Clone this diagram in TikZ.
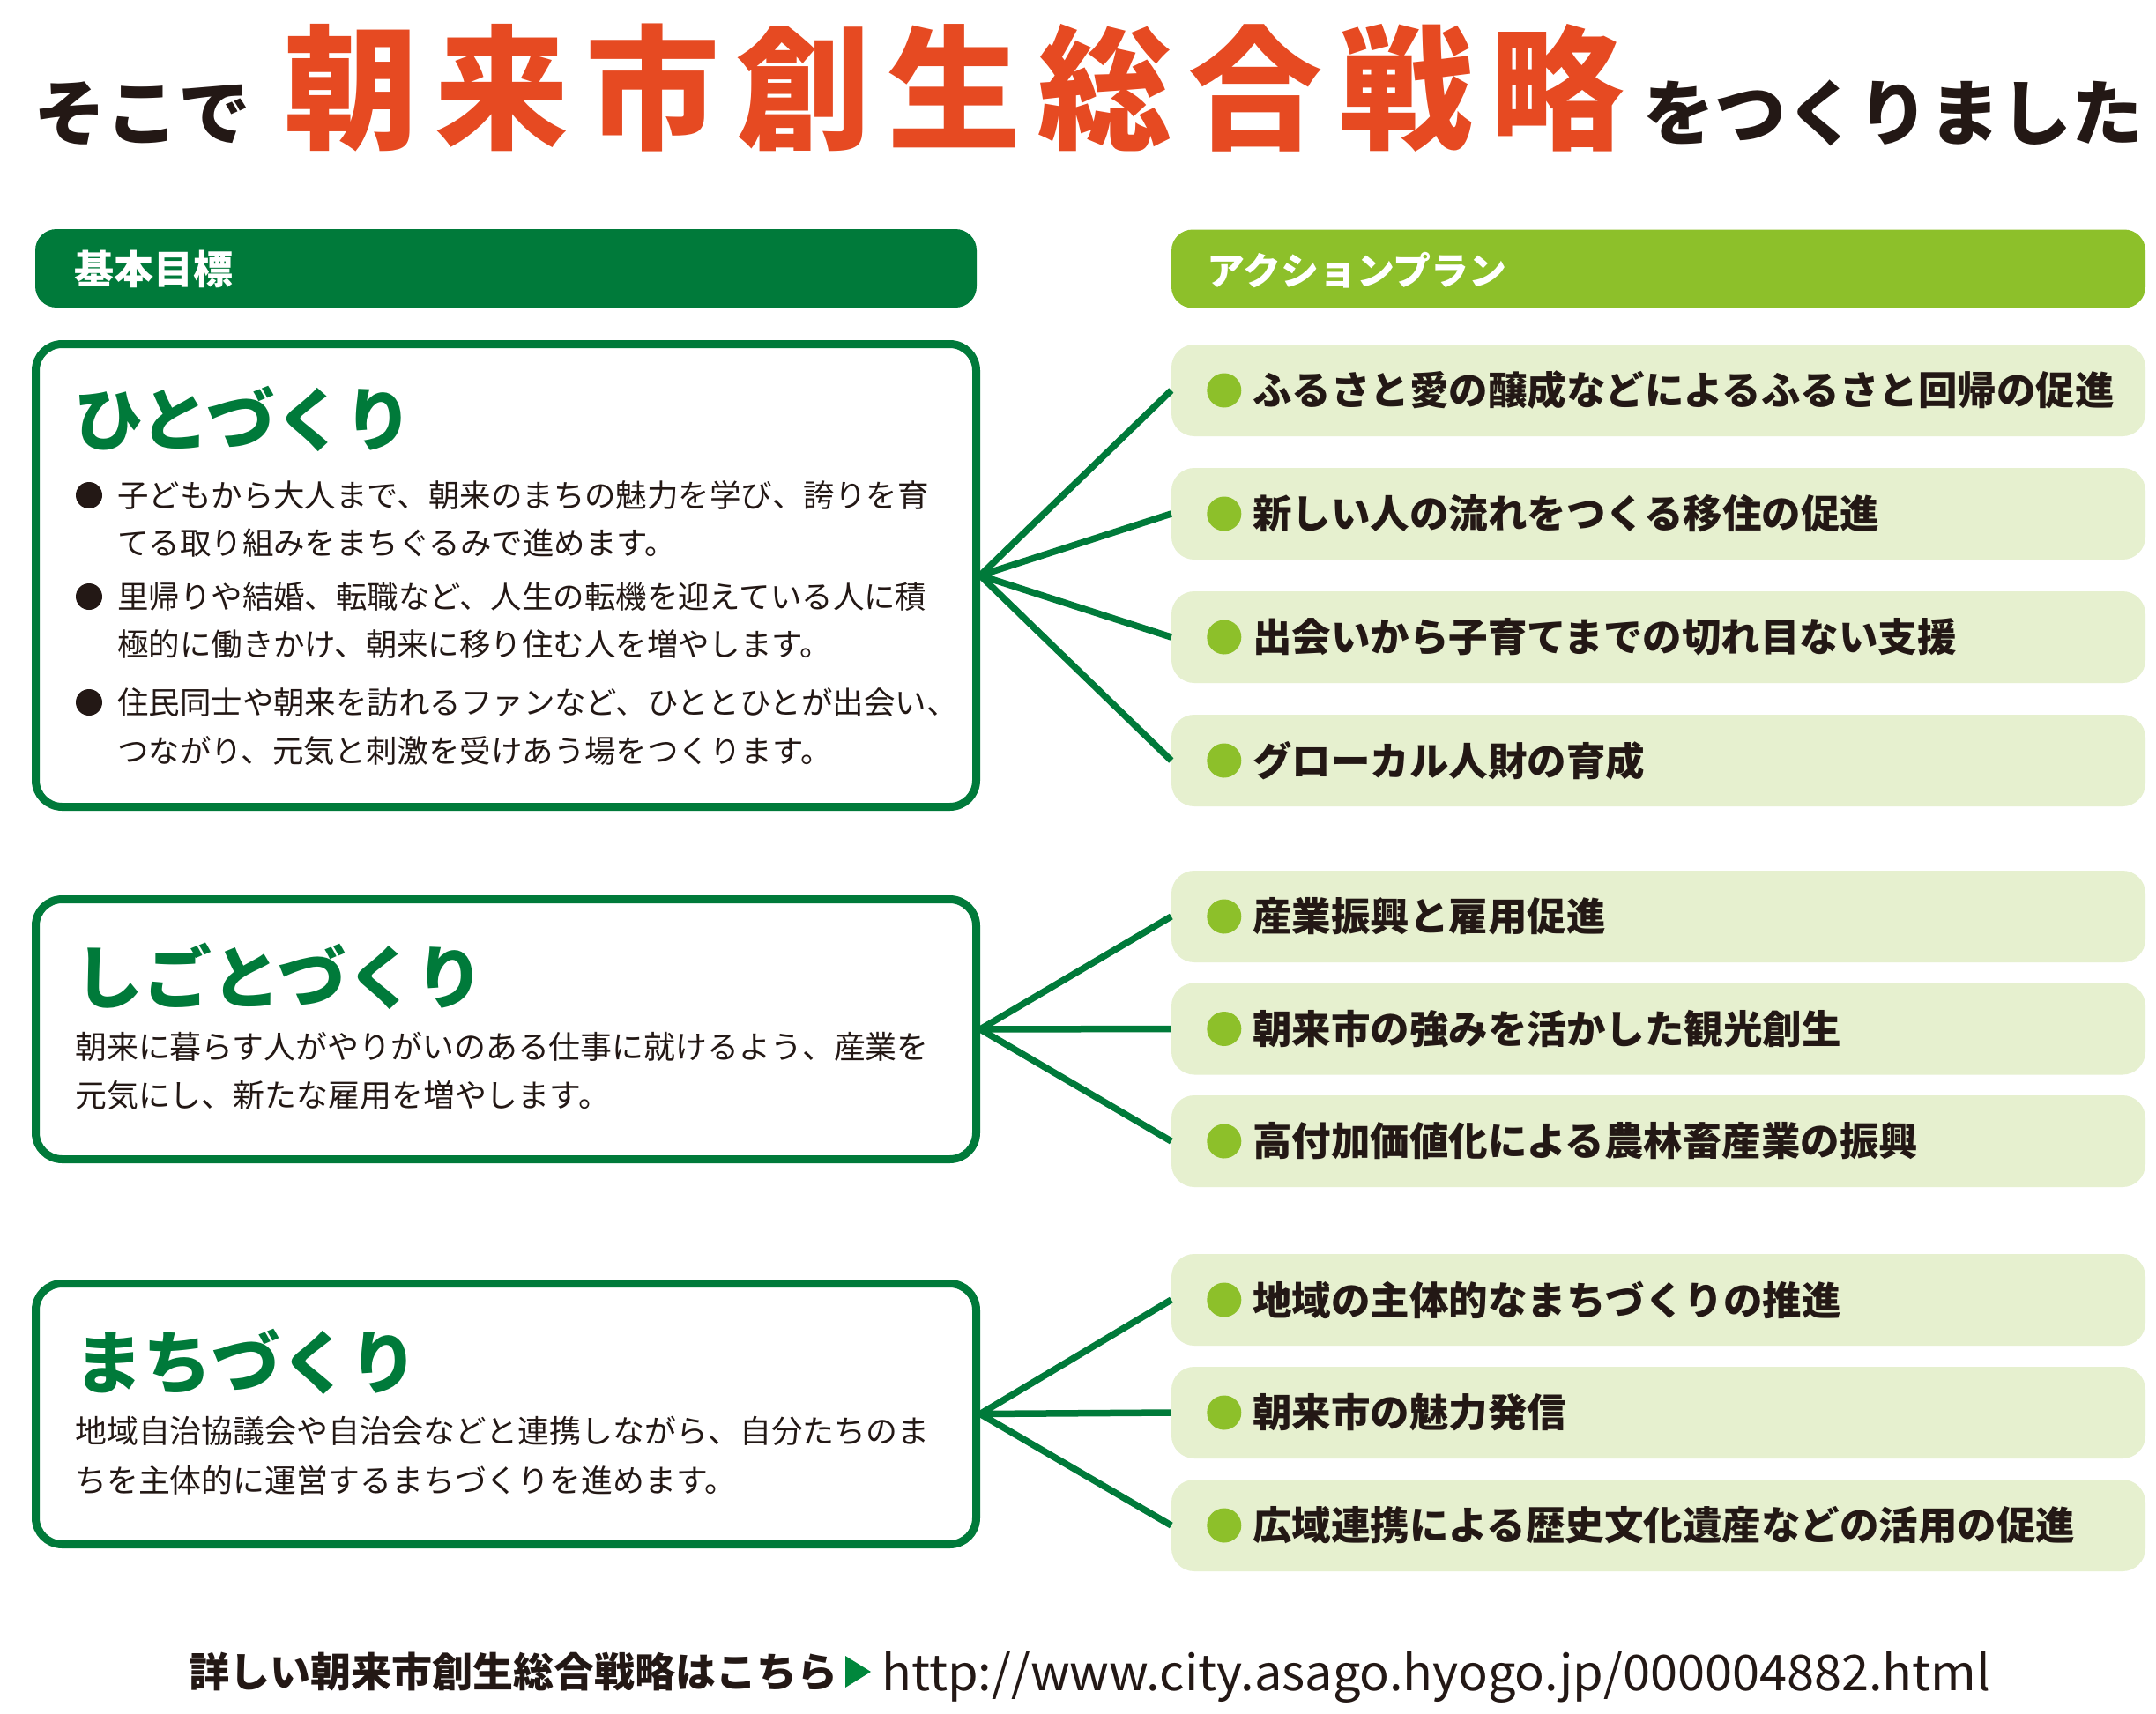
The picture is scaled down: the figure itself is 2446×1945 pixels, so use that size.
\documentclass[tikz,border=0pt]{standalone}
\usepackage{fontspec}
\newfontfamily\jp{Noto Sans CJK JP}
\definecolor{dgreen}{RGB}{0,122,58}
\definecolor{lgreen}{RGB}{141,192,42}
\definecolor{actfill}{RGB}{230,240,207}
\definecolor{tred}{RGB}{230,74,34}
\definecolor{tblack}{RGB}{35,24,21}
\definecolor{fgreen}{RGB}{0,135,60}
\newcommand{\tc}[1]{\makebox[171pt][l]{#1}}
\tikzset{
  goalbox/.style={draw=dgreen, line width=9pt, rounded corners=30pt, fill=white, minimum width=1067pt, inner sep=0pt},
  actbox/.style={fill=actfill, rounded corners=26pt, minimum width=1105pt, minimum height=104pt, inner sep=0pt},
  bar/.style={rounded corners=24pt, minimum height=89pt, inner sep=0pt},
  bartext/.style={anchor=west, inner sep=0pt, text=white, font=\jp\bfseries\fontsize{45}{45}\selectfont},
  conn/.style={draw=dgreen, line width=7.5pt},
  acttext/.style={anchor=west, inner sep=0pt, text=tblack, font=\jp\bfseries\fontsize{44.5}{44.5}\selectfont},
  actdot/.style={circle, fill=lgreen, minimum size=39pt, inner sep=0pt},
  body/.style={anchor=west, inner sep=0pt, text=tblack, font=\jp\fontsize{35.45}{35.45}\selectfont},
  bodyb/.style={anchor=west, inner sep=0pt, text=tblack, font=\jp\fontsize{35.9}{35.9}\selectfont},
  heading/.style={anchor=west, inner sep=0pt, text=dgreen, font=\jp\bfseries\fontsize{78}{78}\selectfont},
  bigdot/.style={circle, fill=tblack, minimum size=30pt, inner sep=0pt}
}
\begin{document}
\begin{tikzpicture}[x=1pt,y=-1pt]
\fill[white] (0,0) rectangle (2446,1945);
\useasboundingbox (0,0) rectangle (2446,1945);

% title
\node[anchor=west, inner sep=0pt, text=tblack, font=\jp\bfseries\fontsize{82}{82}\selectfont] (soko) at (38,129) {そこで};
\node[anchor=west, inner sep=0pt, text=tred, font=\jp\bfseries\fontsize{152}{152}\selectfont] (ttl) at (322,100)
  {\tc{朝}\tc{来}\tc{市}\tc{創}\tc{生}\tc{総}\tc{合}\tc{戦}\makebox[150pt][l]{略}};
\node[anchor=west, inner sep=0pt, text=tblack, font=\jp\bfseries\fontsize{81}{81}\selectfont] (tsuku) at (1864,128) {をつくりました};

% header bars
\node[bar, fill=dgreen, minimum width=1068pt] (kihon) at (574,304.5) {};
\node[bartext] (kihont) at (84,305) {基本目標};
\node[bar, fill=lgreen, minimum width=1105pt] (action) at (1881.5,305) {};
\node[bartext, font=\jp\bfseries\fontsize{43}{43}\selectfont] (actiont) at (1369,307) {アクションプラン};

% goal boxes
\node[goalbox, minimum height=525pt] (hito) at (574,653) {};
\node[goalbox, minimum height=295pt] (shigoto) at (574,1168) {};
\node[goalbox, minimum height=296pt] (machi) at (574,1604.5) {};

\node[heading] (hitoh) at (84,475) {ひとづくり};
\node[bigdot] (b1) at (101,562) {};
\node[body] (h1a) at (133,562) {子どもから大人まで、朝来のまちの魅力を学び、誇りを育};
\node[body] (h1b) at (133,616) {てる取り組みをまちぐるみで進めます。};
\node[bigdot] (b2) at (101,677) {};
\node[body] (h2a) at (133,677) {里帰りや結婚、転職など、人生の転機を迎えている人に積};
\node[body] (h2b) at (133,731) {極的に働きかけ、朝来に移り住む人を増やします。};
\node[bigdot] (b3) at (101,797) {};
\node[body] (h3a) at (133,797) {住民同士や朝来を訪れるファンなど、ひととひとが出会い、};
\node[body] (h3b) at (133,852) {つながり、元気と刺激を受けあう場をつくります。};

\node[heading] (shigotoh) at (84,1108) {しごとづくり};
\node[bodyb] (s1) at (85,1188) {朝来に暮らす人がやりがいのある仕事に就けるよう、産業を};
\node[bodyb] (s2) at (85,1243) {元気にし、新たな雇用を増やします。};

\node[heading] (machih) at (84,1545) {まちづくり};
\node[bodyb] (m1) at (85,1624) {地域自治協議会や自治会などと連携しながら、自分たちのま};
\node[bodyb] (m2) at (85,1680) {ちを主体的に運営するまちづくりを進めます。};

% action items
\foreach \n/\yy/\txt in {
  1/443/ふるさと愛の醸成などによるふるさと回帰の促進,
  2/583/新しい人の流れをつくる移住の促進,
  3/723/出会いから子育てまでの切れ目ない支援,
  4/863/グローカル人財の育成,
  5/1040/産業振興と雇用促進,
  6/1167.5/朝来市の強みを活かした観光創生,
  7/1295/高付加価値化による農林畜産業の振興,
  8/1475/地域の主体的なまちづくりの推進,
  9/1603/朝来市の魅力発信,
  10/1731/広域連携による歴史文化遺産などの活用の促進}{
  \node[actbox] (a\n) at (1881.5,\yy) {};
  \node[actdot] (d\n) at ([xshift=60pt]a\n.west) {};
  \node[acttext] (t\n) at ([xshift=92pt]a\n.west) {\txt};
}

% connectors
\foreach \n in {1,2,3,4} {\draw[conn] (hito.east) -- (a\n.west);}
\foreach \n in {5,6,7} {\draw[conn] (shigoto.east) -- (a\n.west);}
\foreach \n in {8,9,10} {\draw[conn] (machi.east) -- (a\n.west);}

% footer
\node[anchor=west, inner sep=0pt, text=tblack, font=\jp\bfseries\fontsize{46}{46}\selectfont] (foot) at (214,1897) {詳しい朝来市創生総合戦略はこちら};
\fill[fgreen] (959,1879) -- (959,1915) -- (988,1897) -- cycle;
\node[anchor=base west, inner sep=0pt, text=tblack] (url) at (1000,1918)
  {\resizebox{1258pt}{!}{\jp\fontsize{58}{58}\selectfont http://www.city.asago.hyogo.jp/000004882.html}};
\end{tikzpicture}
\end{document}
